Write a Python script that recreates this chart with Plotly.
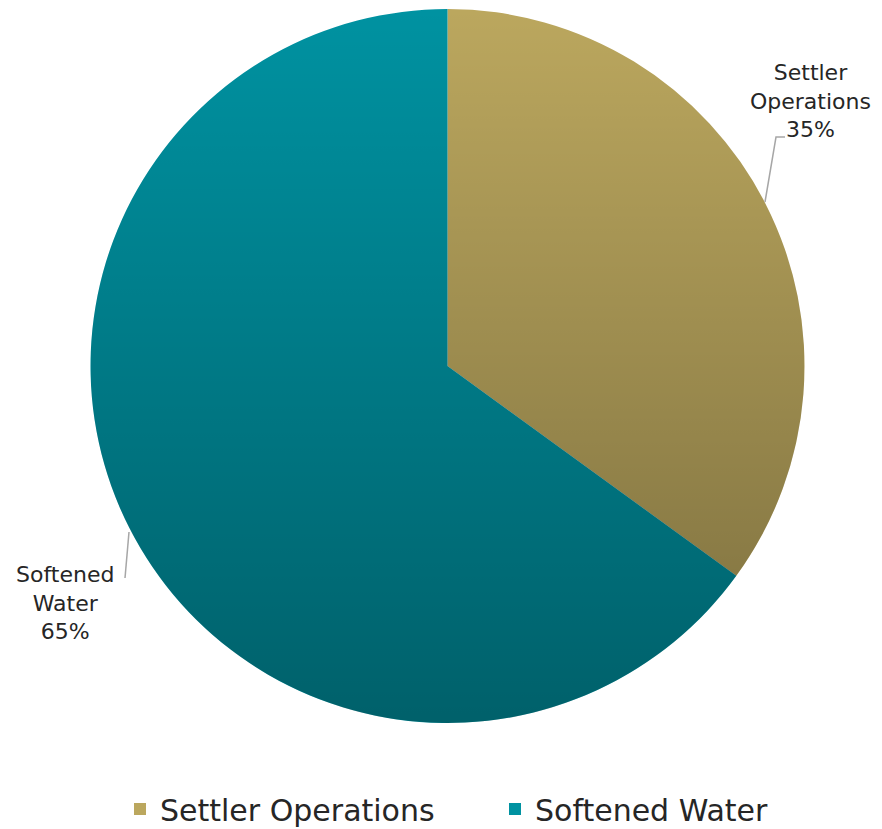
import plotly.graph_objects as go
import urllib.parse

categories = ["Settler Operations", "Softened Water"]
label_lines = [["Settler", "Operations"], ["Softened", "Water"]]
values = [35, 65]
colors = ["#BBA75E", "#0092A1"]

W, H = 882, 829
FONT = "'DejaVu Sans', Lato, sans-serif"

# pie placement in figure pixels (left, top, right, bottom)
pl, pt, pr, pb = 82, 1, 797, 715

total = sum(values)
pct = [f"{round(v / total * 100)}%" for v in values]

fig = go.Figure()
fig.add_trace(go.Pie(
    labels=categories,
    values=values,
    textinfo="none",
    marker=dict(colors=colors, line=dict(color="#FFFFFF", width=0)),
    sort=False,
    direction="clockwise",
    rotation=0,
    domain=dict(x=[pl / W, pr / W], y=[1 - pb / H, 1 - pt / H]),
    hoverinfo="label+percent",
))

# dummy pixel axes for labels and leader lines
fig.update_layout(
    xaxis=dict(range=[0, W], visible=False, fixedrange=True, domain=[0, 1]),
    yaxis=dict(range=[H, 0], visible=False, fixedrange=True, domain=[0, 1]),
)

# vertical shading over the pie to mimic the gradient fill
cx, cy = (pl + pr) / 2, (pt + pb) / 2
rad = min(pr - pl, pb - pt) / 2
svg = (
    "<svg xmlns='http://www.w3.org/2000/svg' width='100' height='100' viewBox='0 0 100 100'>"
    "<defs><linearGradient id='g' x1='0' y1='0' x2='0' y2='1'>"
    "<stop offset='0' stop-color='black' stop-opacity='0'/>"
    "<stop offset='1' stop-color='black' stop-opacity='0.34'/>"
    "</linearGradient></defs>"
    "<circle cx='50' cy='50' r='50' fill='url(#g)'/></svg>"
)
src = "data:image/svg+xml;charset=utf-8," + urllib.parse.quote(svg)
fig.add_layout_image(dict(
    source=src, xref="paper", yref="paper",
    x=(cx - rad) / W, y=1 - (cy - rad) / H, sizex=2 * rad / W, sizey=2 * rad / H,
    xanchor="left", yanchor="top", sizing="stretch", layer="above", opacity=1,
))

label_pos = [(802, 93), (57, 595)]
for (x, y), lines, p in zip(label_pos, label_lines, pct):
    fig.add_annotation(
        x=x, y=y, xref="x", yref="y", showarrow=False,
        text="<br>".join(lines + [p]),
        font=dict(family=FONT, size=22, color="#262626"),
        align="center", xanchor="center", yanchor="middle",
    )

leader_paths = ["M 757 194 L 768 129 L 777 129", "M 121 524 L 117 570"]
for path in leader_paths:
    fig.add_shape(type="path", path=path, xref="x", yref="y",
                  line=dict(color="#A6A6A6", width=1.5))

fig.update_layout(
    width=W, height=H,
    margin=dict(l=0, r=0, t=0, b=0),
    paper_bgcolor="white",
    plot_bgcolor="rgba(0,0,0,0)",
    showlegend=True,
    legend=dict(
        orientation="h", x=112 / W, xanchor="left", y=1 - 801 / H, yanchor="middle",
        font=dict(family=FONT, size=30, color="#262626"),
        entrywidth=330, entrywidthmode="pixels",
        itemclick=False, itemdoubleclick=False,
    ),
)
fig.write_html("out.html")
